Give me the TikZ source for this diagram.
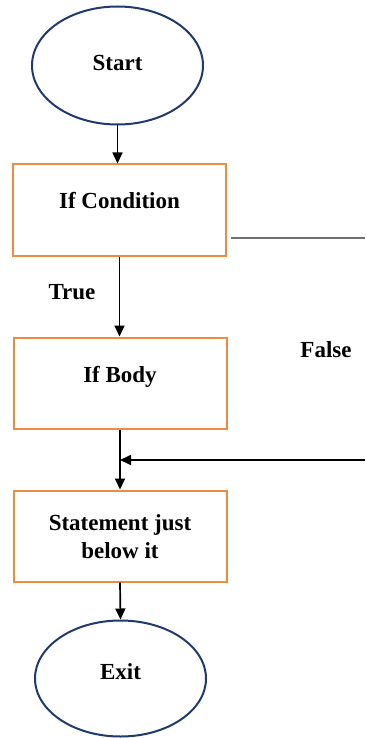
\documentclass[tikz,border=0pt]{standalone}
\usepackage{fontspec}
\setmainfont{Liberation Serif}
\usetikzlibrary{shapes.geometric,arrows.meta}
\definecolor{termblue}{HTML}{1F3A6E}
\definecolor{boxorange}{HTML}{F08A40}
\definecolor{falsegrey}{HTML}{707070}
\begin{document}
\begin{tikzpicture}[x=1pt,y=-1pt,
  term/.style={ellipse, draw=termblue, line width=2pt, inner sep=0pt,
    minimum width=171pt, minimum height=118pt},
  stepbox/.style={rectangle, draw=boxorange, line width=2pt, inner sep=0pt,
    minimum width=213pt, minimum height=91pt},
  txt/.style={font=\fontsize{23}{28}\selectfont\bfseries, align=center, inner sep=0pt},
  flow/.style={-{Triangle[length=11pt,width=10pt]}, line width=1.7pt},
  falseline/.style={draw=falsegrey, line width=1.3pt}
]
\useasboundingbox (0,0) rectangle (365,738);

% terminals and process boxes
\node[term] (start) at (117.5,65.5) {};
\node[txt] (starttxt) at (117.5,63) {Start};

\node[stepbox] (cond) at (119.5,210) {};
\node[txt] (condtxt) at (119.5,201) {If Condition};

\node[stepbox] (body) at (120,383) {};
\node[txt] (bodytxt) at (120,377) {If Body};

\node[stepbox] (stmt) at (120,536) {};
\node[txt] (stmttxt) at (120,537) {Statement just\\below it};

\node[term, minimum height=116pt] (exit) at (120.5,678.5) {};
\node[txt] (exittxt) at (120.5,672) {Exit};

% branch labels
\node[txt] (truelbl) at (72,292) {True};
\node[txt] (falselbl) at (326,350) {False};

% free ends of the false branch
\coordinate (fend) at (365,238);
\coordinate (ret) at (365,460);
\coordinate (join) at (120,460);

% connectors
\draw[flow] (start.south) -- (start.south |- cond.north);
\draw[flow] (cond.south) -- (cond.south |- body.north);
\draw[falseline] ([xshift=4pt]cond.east |- fend) -- (fend);
\draw[flow] (body.south) -- (stmt.north);
\draw[flow] (ret) -- (join);
\draw[flow] (stmt.south) -- (exit.north);
\end{tikzpicture}
\end{document}
